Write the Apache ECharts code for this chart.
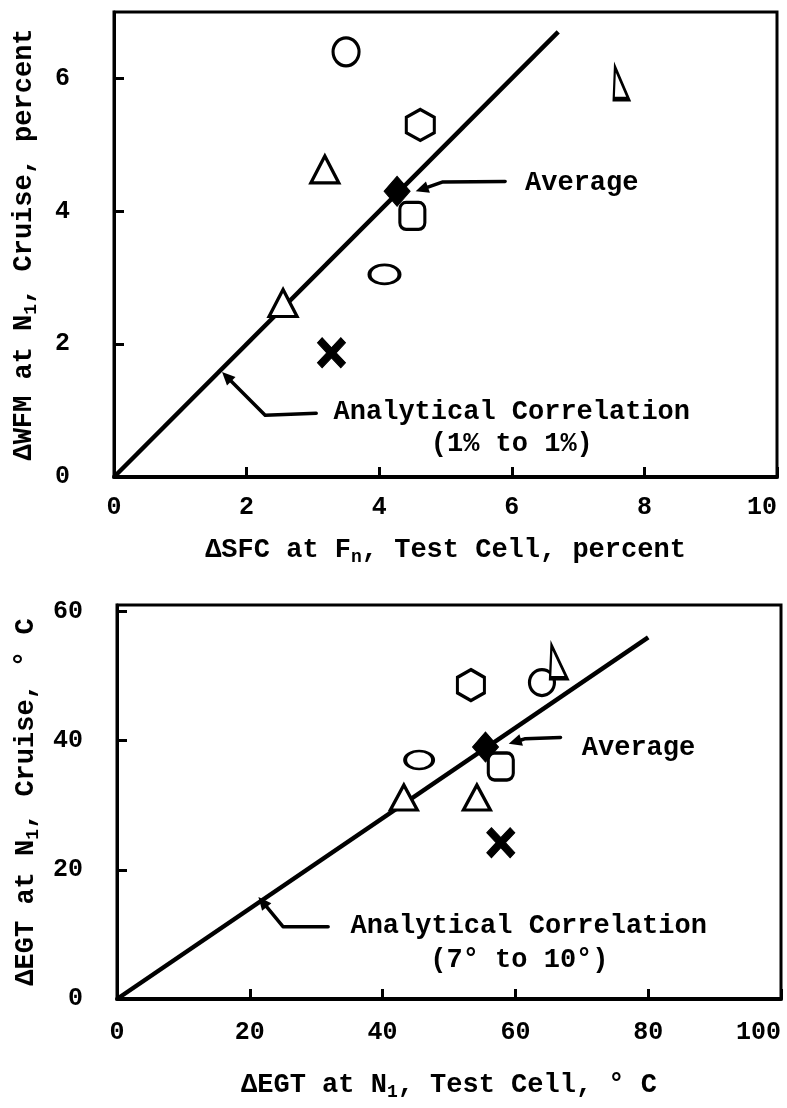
<!DOCTYPE html>
<html>
<head>
<meta charset="utf-8">
<script src="https://cdn.jsdelivr.net/npm/echarts@6/dist/echarts.min.js"></script>
<style>
  html, body { margin: 0; padding: 0; background: #fff; }
  #chart { width: 787px; height: 1108px; }
</style>
</head>
<body>
<div id="chart"></div>
<script>
// ---------- DATA ----------
const markerKinds = ['circle', 'narrowTriangle', 'hexagon', 'triangle', 'average', 'square', 'ellipse', 'triangle', 'cross'];

// Top chart: ΔSFC (x) vs ΔWFM (y), percent
const topX = [3.5, 7.65, 4.62, 3.18, 4.27, 4.5, 4.08, 2.55, 3.28];
const topY = [6.4, 5.93, 5.3, 4.63, 4.3, 3.93, 3.05, 2.62, 1.87];
const topLineX = [0, 6.7];
const topLineY = [0, 6.7];
const topXTicks = [0, 2, 4, 6, 8, 10];
const topYTicks = [0, 2, 4, 6];

// Bottom chart: ΔEGT test cell (x) vs ΔEGT cruise (y), °C
const botX = [64, 66.5, 53.3, 54.2, 55.5, 57.8, 45.5, 43.2, 57.8];
const botY = [49, 52.2, 48.6, 31.2, 39, 36, 37, 31.2, 24.2];
const botLineX = [0, 80];
const botLineY = [0, 56];
const botXTicks = [0, 20, 40, 60, 80, 100];
const botYTicks = [0, 20, 40, 60];

// ---------- STYLE ----------
const FONT = '"Liberation Mono", "DejaVu Sans Mono", monospace';
const hollow = { color: '#fff', borderColor: '#000', borderWidth: 3.2, opacity: 1 };
const solid = { color: '#000', borderColor: '#000', borderWidth: 1, opacity: 1 };
const shapes = {
  circle: { symbol: 'circle', sizeTop: [26, 28], sizeBot: [25, 26], style: hollow },
  narrowTriangle: { symbol: 'path://M1,0 L0,32 L12,32 Z', sizeTop: [15, 32], sizeBot: [17, 33], style: hollow },
  hexagon: { symbol: 'path://M15,0 L30,8 L30,24 L15,32 L0,24 L0,8 Z', sizeTop: [28, 31], sizeBot: [27, 31], style: hollow },
  triangle: { symbol: 'triangle', sizeTop: [28, 27], sizeBot: [27, 25], style: hollow },
  average: { symbol: 'diamond', sizeTop: [26, 30], sizeBot: [26, 30], style: solid },
  square: { symbol: 'roundRect', sizeTop: [25, 27], sizeBot: [25, 27], style: hollow },
  ellipse: { symbol: 'circle', sizeTop: [30, 19], sizeBot: [28, 18], style: hollow },
  cross: { symbol: 'path://M0,5 L5,0 L15,10 L25,0 L30,5 L20,15 L30,25 L25,30 L15,20 L5,30 L0,25 L10,15 Z', sizeTop: [28, 30], sizeBot: [28, 30], style: solid }
};

function points(xs, ys, which) {
  return xs.map((x, i) => {
    const s = shapes[markerKinds[i]];
    return {
      value: [x, ys[i]],
      symbol: s.symbol,
      symbolSize: which === 'top' ? s.sizeTop : s.sizeBot,
      symbolKeepAspect: false,
      itemStyle: s.style
    };
  });
}
function linePts(xs, ys) { return xs.map((x, i) => [x, ys[i]]); }

const rich = {
  t: { fontFamily: FONT, fontWeight: 'bold', fontSize: 27, color: '#000' },
  s: { fontFamily: FONT, fontWeight: 'bold', fontSize: 18, color: '#000', padding: [14, 0, 0, 0] }
};

function xAxisDef(gridIndex, max, ticks, name, nameGap, labelMargin) {
  return {
    gridIndex, type: 'value', min: 0, max,
    name, nameLocation: 'middle', nameGap,
    nameTextStyle: { rich },
    axisLine: { show: true, lineStyle: { color: '#000', width: 4 } },
    axisTick: { show: true, inside: true, length: 10, lineStyle: { color: '#000', width: 3 }, customValues: ticks },
    axisLabel: { customValues: ticks, margin: labelMargin, alignMaxLabel: 'right', color: '#000', fontFamily: FONT, fontWeight: 'bold', fontSize: 25 },
    splitLine: { show: false }
  };
}
function yAxisDef(gridIndex, max, ticks, name, nameGap, labelMargin) {
  return {
    gridIndex, type: 'value', min: 0, max,
    name, nameLocation: 'middle', nameGap,
    nameTextStyle: { rich },
    axisLine: { show: true, lineStyle: { color: '#000', width: 3 } },
    axisTick: { show: true, inside: true, length: 10, lineStyle: { color: '#000', width: 3 }, customValues: ticks },
    axisLabel: { customValues: ticks, margin: labelMargin, color: '#000', fontFamily: FONT, fontWeight: 'bold', fontSize: 25 },
    splitLine: { show: false }
  };
}

const chart = echarts.init(document.getElementById('chart'), null, { renderer: 'canvas' });

const option = {
  backgroundColor: '#fff',
  animation: false,
  grid: [
    { left: 114, top: 12, width: 663, height: 465, containLabel: false, outerBoundsMode: 'none', show: true, borderColor: '#000', borderWidth: 3, backgroundColor: 'transparent' },
    { left: 117, top: 605, width: 664, height: 394, containLabel: false, outerBoundsMode: 'none', show: true, borderColor: '#000', borderWidth: 3, backgroundColor: 'transparent' }
  ],
  xAxis: [
    xAxisDef(0, 10, topXTicks, '{t|ΔSFC at F}{s|n}{t|, Test Cell, percent}', 57, 18),
    xAxisDef(1, 100, botXTicks, '{t|ΔEGT at N}{s|1}{t|, Test Cell, ° C}', 70, 21)
  ],
  yAxis: [
    yAxisDef(0, 7, topYTicks, '{t|ΔWFM at N}{s|1}{t|, Cruise, percent}', 74, 44),
    yAxisDef(1, 61, botYTicks, '{t|ΔEGT at N}{s|1}{t|, Cruise, ° C}', 74, 34)
  ],
  series: [
    { type: 'line', xAxisIndex: 0, yAxisIndex: 0, data: linePts(topLineX, topLineY), symbol: 'none', lineStyle: { color: '#000', width: 4.5 }, z: 2 },
    { type: 'line', xAxisIndex: 1, yAxisIndex: 1, data: linePts(botLineX, botLineY), symbol: 'none', lineStyle: { color: '#000', width: 4.5 }, z: 2 },
    { type: 'scatter', xAxisIndex: 0, yAxisIndex: 0, data: points(topX, topY, 'top'), z: 5 },
    { type: 'scatter', xAxisIndex: 1, yAxisIndex: 1, data: points(botX, botY, 'bot'), z: 5 }
  ]
};
chart.setOption(option);

// ---------- ANNOTATIONS (placed through the axes' scales) ----------
const annot = {
  top: {
    avgText: [6.2, 4.42],
    avgArrow: [[5.9, 4.45], [4.95, 4.44], [4.55, 4.3]],
    corr1: [6.0, 0.98], corr2: [6.0, 0.5],
    corrArrow: [[3.05, 0.96], [2.28, 0.93], [1.63, 1.58]],
    label2: '(1% to 1%)'
  },
  bot: {
    avgText: [70, 38.9],
    avgArrow: [[66.8, 40.5], [61.5, 40.3], [59, 39.5]],
    corr1: [62, 11.3], corr2: [60.6, 6.0],
    corrArrow: [[31.8, 11.2], [25, 11.2], [21.3, 15.8]],
    label2: '(7° to 10°)'
  }
};

function px(gridIndex, p) { return chart.convertToPixel({ gridIndex }, p); }
function arrowGraphics(gridIndex, pts) {
  const pp = pts.map(p => px(gridIndex, p));
  const n = pp.length;
  const tip = pp[n - 1], prev = pp[n - 2];
  const dx = tip[0] - prev[0], dy = tip[1] - prev[1];
  const L = Math.hypot(dx, dy);
  const ux = dx / L, uy = dy / L;
  const hl = 13, hw = 6;
  const bx = tip[0] - ux * hl, by = tip[1] - uy * hl;
  const shaft = pp.slice(0, n - 1).concat([[bx, by]]);
  return [
    { type: 'polyline', shape: { points: shaft }, style: { stroke: '#000', lineWidth: 3.5, fill: null, lineCap: 'round', lineJoin: 'round' }, z: 10 },
    { type: 'polygon', shape: { points: [tip, [bx - uy * hw, by + ux * hw], [bx + uy * hw, by - ux * hw]] }, style: { fill: '#000' }, z: 10 }
  ];
}
function textG(gridIndex, p, text, align) {
  const q = px(gridIndex, p);
  return { type: 'text', x: q[0], y: q[1], z: 10,
    style: { text, fill: '#000', font: 'bold 27px ' + FONT, align, verticalAlign: 'middle' } };
}

const graphics = [];
[['top', 0], ['bot', 1]].forEach(([k, g]) => {
  const a = annot[k];
  graphics.push(textG(g, a.avgText, 'Average', 'left'));
  graphics.push(...arrowGraphics(g, a.avgArrow));
  graphics.push(textG(g, a.corr1, 'Analytical Correlation', 'center'));
  graphics.push(textG(g, a.corr2, a.label2, 'center'));
  graphics.push(...arrowGraphics(g, a.corrArrow));
});
chart.setOption({ graphic: graphics });
</script>
</body>
</html>
